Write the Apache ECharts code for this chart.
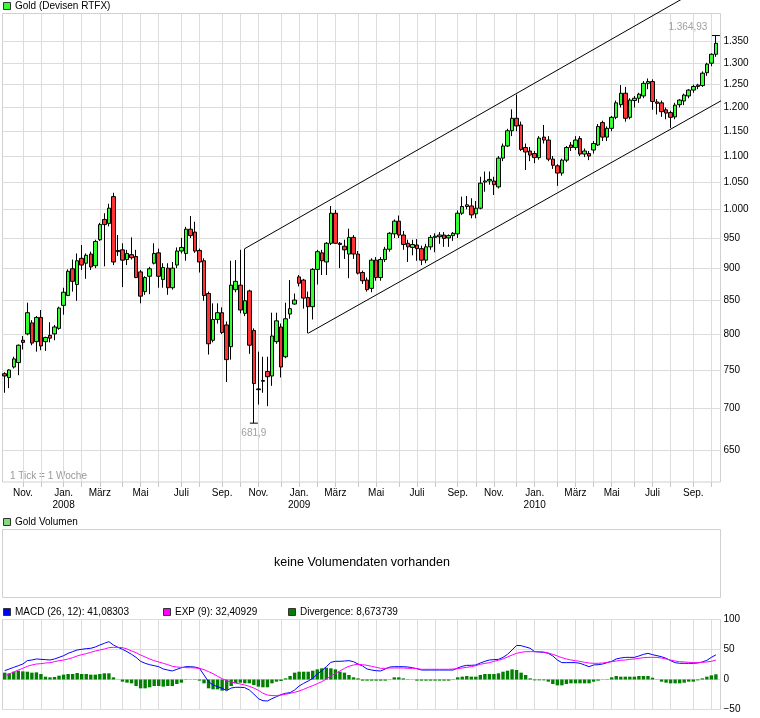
<!DOCTYPE html>
<html><head><meta charset="utf-8">
<script src="https://cdn.jsdelivr.net/npm/echarts@6.0.0/dist/echarts.min.js"></script>
<style>html,body{margin:0;padding:0;background:#fff}#c{width:760px;height:718px}</style>
</head><body><div id="c"></div>
<script>
// ---- weekly OHLC (USD), one candle per week, first week ending 2007-10-05 ----
const opens = [745,740,754,760,791,800,816,789,824,789,798,800,808,842,857,899,874,916,908,923,904,947,982,975,1023,929,930,914,922,919,894,863,887,908,925,882,900,869,905,928,924,965,960,929,912,860,791,821,831,813,782,866,873,830,864,805,725,735,748,742,789,810,768,829,844,886,881,854,840,898,925,910,941,993,941,936,923,951,923,893,881,868,913,885,914,931,957,979,955,941,934,938,932,913,935,951,952,955,950,954,957,993,1005,1006,992,1002,1050,1052,1052,1041,1096,1120,1151,1177,1163,1117,1110,1105,1097,1138,1132,1094,1081,1067,1092,1122,1117,1135,1104,1105,1112,1122,1168,1138,1156,1179,1206,1231,1179,1215,1220,1225,1253,1257,1212,1210,1195,1189,1180,1206,1214,1225,1238,1246,1248,1277,1299,1320];
const highs = [747,751,768,785,797,846,820,826,835,796,817,813,840,869,898,914,924,938,924,927,947,976,993,1010,1030,955,941,930,951,930,897,887,902,941,932,908,908,910,934,950,969,988,978,932,916,863,845,845,839,818,912,913,930,932,866,808,775,768,768,831,831,815,846,881,860,889,883,863,900,930,930,943,1006,999,943,947,966,955,928,896,885,916,918,918,935,960,982,989,962,947,947,948,937,940,955,958,960,960,956,960,998,1023,1024,1020,1015,1060,1070,1070,1060,1100,1125,1155,1196,1228,1170,1125,1118,1110,1140,1163,1140,1100,1084,1095,1120,1128,1140,1140,1115,1110,1130,1165,1172,1160,1182,1215,1249,1245,1220,1225,1232,1258,1264,1262,1218,1215,1200,1193,1210,1218,1230,1240,1250,1252,1280,1300,1322,1364.93];
const lows = [720,726,752,743,778,798,784,775,777,776,788,791,806,828,856,863,849,897,883,897,900,945,903,970,905,920,870,905,914,884,845,858,859,906,869,869,858,866,900,924,912,950,925,893,849,771,788,815,800,734,764,862,830,826,772,681.9,705,720,703,729,786,740,766,822,843,871,837,801,821,874,889,889,938,940,900,915,884,915,890,875,863,862,880,880,910,927,950,950,930,910,921,912,905,908,930,926,940,935,935,945,950,990,1000,984,984,1000,1032,1045,1026,1038,1090,1118,1140,1150,1110,1073,1090,1086,1093,1125,1090,1075,1043,1062,1088,1110,1112,1100,1098,1092,1105,1120,1130,1130,1150,1175,1200,1170,1175,1200,1210,1220,1240,1195,1185,1180,1175,1157,1175,1200,1205,1220,1232,1240,1245,1270,1292,1314];
const closes = [742,750,765,784,788,831,787,824,783,795,794,810,838,862,895,879,912,905,921,902,944,973,973,1002,910,927,913,924,917,885,856,885,899,924,887,901,869,900,928,934,965,954,928,910,857,786,821,831,802,764,873,879,835,849,784,732,724,736,741,797,819,754,822,837,850,876,853,840,898,927,912,941,993,941,939,930,951,923,892,880,866,913,885,914,931,958,979,955,939,935,939,932,913,935,951,953,955,949,954,958,993,1005,1008,990,1002,1048,1052,1055,1045,1096,1120,1151,1177,1161,1113,1108,1102,1097,1136,1132,1094,1082,1067,1092,1117,1117,1132,1104,1110,1100,1125,1160,1138,1156,1179,1210,1231,1177,1216,1220,1229,1253,1257,1213,1209,1191,1188,1179,1205,1216,1227,1238,1246,1249,1276,1297,1320,1346];

// ---- MACD panel ----
const macd = [14.7,17.5,20.3,23,25.8,31.4,32.5,34.2,33.6,33.1,32.5,34.2,36.9,39.7,43.6,46.4,49.2,50.3,51.4,52,54.2,57.5,60.3,63.1,57.5,53.6,50.3,46.4,41.9,36.9,30.3,27,24.7,23,21.4,17.5,15.8,14.2,16.9,19.7,21.4,21.4,20.8,18.6,7.5,-3.6,-9.2,-12,-14.7,-18.6,-14.2,-13,-13,-13.6,-17.5,-24.2,-32,-35.3,-35.8,-32,-28.6,-25.3,-23,-21.9,-17.5,-10.8,-6.4,-2.5,1.9,9.2,14.7,21.4,28.6,30.3,30.3,30.8,31.4,29.7,25.8,22.5,17.5,15.8,14.7,14.2,17.5,20.8,21.4,21.4,21.4,20.8,19.7,18,15.8,15.8,15.8,15.8,15.8,15.8,15.8,15.8,19.2,22,23.6,23.6,24.2,27.5,30.3,32.5,33.1,33.6,36.9,41.9,49.2,56.9,56.4,54.2,52,46.4,45.8,45.3,43.6,39.2,32.5,28.1,28.1,28.1,28.1,27,24.2,21.4,24.2,24.7,25.8,28.1,30.3,34.2,35.8,36.9,36.9,36.9,39.2,41.9,43.6,41.4,39.7,38,35.3,31.4,28.1,27,27,27,27,27.5,29.2,32,36.9,41.08303];
const signal = [5.8,9.2,12.5,15.8,18.6,22,24.2,25.8,26.4,27.5,28,29.7,31.4,32.5,34.2,36.4,39.2,41.4,43.1,45.3,47.5,49.2,50.8,53,53.6,53.6,53.1,50.8,47.5,44.7,40.8,37.5,34.2,31.4,29.2,27,24.7,22,20.8,20.3,19.7,19.7,19.2,18.6,16.4,13.1,9.7,5.3,1.4,-2,-4.2,-5.8,-7.5,-9.2,-11.4,-14.2,-18,-23,-25.8,-26.9,-26.9,-25.8,-24.7,-23,-21.4,-19.2,-16.4,-13.1,-10.3,-7,-3.6,0.8,5.8,10.3,14.2,18.6,22,24.2,25.3,24.7,23.6,22,20.3,18.6,18.6,19.2,19.2,19.2,19.2,18.6,18.6,18.1,17,17,17,17,17,17,17,17.5,18.1,19.2,20.3,21.4,23,25.3,26.9,28,30.3,32,34.2,37.5,40.8,43.6,45.3,46.4,46.4,46.4,46.4,45.8,44.2,41.9,39.2,36.4,34.2,32.5,31.4,30.3,28.6,27.5,27,27,27.5,28.6,29.7,30.8,32,32.5,33.6,34.2,35.3,36.4,36.9,36.9,36.9,35.8,34.2,32.5,30.8,29.7,29.2,28.6,28.1,28.1,28.6,29.2,30.3,32.40929];
const divergence = [11.4,10.3,13,14.7,13.6,13,11.4,11.9,9.2,4.7,3.6,4.2,6.4,8.1,9.2,9.2,10.8,9.2,9.2,8.1,8.1,9.2,10.3,10.3,3.6,0.2,-3.6,-5.3,-6.4,-10.8,-14.7,-14.7,-13,-10.8,-10.8,-11.9,-10.8,-10.8,-7.5,-5.3,-0.5,0.3,0.5,-1.9,-6.4,-14.7,-16.4,-16.4,-18.6,-17.5,-10.8,-6.4,-5.3,-6.4,-6.4,-9.2,-11.9,-13,-13,-6.4,-3.6,-2.5,1.9,5.8,11.4,13,13,13,14.7,16.9,18.6,19.7,18.6,16.9,13,11.4,7.5,3.6,1.9,-1.9,-1.9,-1.9,-1.9,-1.9,-1.9,0.4,3.6,3.6,1.9,0.5,0.3,-1.9,-1.9,-1.9,-1.9,-1.9,-1.9,-1.9,-1.9,-0.5,3.6,4.7,5.8,4.7,4.7,7.5,9.2,9.2,9.2,10.3,13,14.7,16.9,15.8,11.4,7.5,1.9,-1.4,-1.4,-1.4,-3.6,-7.5,-9.7,-9.7,-7.5,-6.4,-6.4,-6.4,-6.4,-6.4,-3.6,-1.9,-0.3,0.5,3.6,5.8,4.7,4.7,4.7,4.7,5.8,5.8,5.8,3,0.3,-3.6,-5.3,-6.4,-6.4,-6.4,-5.3,-3.6,-3.6,-1.4,1.9,4.7,6.9,8.673739];

// ---- trend channel (date, price) ----
const channelUpper = [['2008-10-10', 932], ['2010-09-14', 1485]];
const channelLower = [['2009-01-16', 801], ['2010-12-15', 1263]];

// ---- axis ticks & labels ----
const priceTicks = [650,700,750,800,850,900,950,1000,1050,1100,1150,1200,1250,1300,1350];
const macdTicks = [-50, 0, 50, 100];
const xLabelMonths = ['2007-11','2008-01','2008-03','2008-05','2008-07','2008-09','2008-11','2009-01','2009-03','2009-05','2009-07','2009-09','2009-11','2010-01','2010-03','2010-05','2010-07','2010-09'];
const xLabelTexts = ['Nov.','Jan.\n2008','März','Mai','Juli','Sep.','Nov.','Jan.\n2009','März','Mai','Juli','Sep.','Nov.','Jan.\n2010','März','Mai','Juli','Sep.'];
const gridFirstMonth = '2007-11', gridLastMonth = '2010-10';

const FONT = 'Liberation Sans, Arial, sans-serif';
const DAY = 86400000;
const firstWeek = Date.UTC(2007, 9, 5);
const weeks = opens.map((_, i) => firstWeek + i * 7 * DAY);

// tick sits on the weekly candle of the week (Mon-Sun) that contains the 1st of the month
function monthTick(ym) {
  const [y, m] = ym.split('-').map(Number);
  const t = Date.UTC(y, m - 1, 1);
  const dow = new Date(t).getUTCDay();
  const iso = dow === 0 ? 7 : dow;
  return t + (5 - iso) * DAY;
}
const gridTicks = [];
{
  let [y, m] = gridFirstMonth.split('-').map(Number);
  const [ly, lm] = gridLastMonth.split('-').map(Number);
  while (y < ly || (y === ly && m <= lm)) {
    gridTicks.push(monthTick(y + '-' + m));
    m++; if (m > 12) { m = 1; y++; }
  }
}
const labelTicks = xLabelMonths.map(monthTick);
const labelMap = {};
labelTicks.forEach((t, i) => labelMap[t] = xLabelTexts[i]);

const xMin = firstWeek - 3.4 * DAY;
const xMax = weeks[weeks.length - 1] + 7.1 * DAY;
const yMin = Math.log(613.7), yMax = Math.log(1419.9);

function fmtThousands(n) {
  n = Math.round(n);
  return n >= 1000 ? Math.floor(n / 1000) + '.' + String(n % 1000).padStart(3, '0') : String(n);
}
function fmtDe(v) {
  let s = v.toFixed(2).replace(/0+$/, '').replace(/\.$/, '');
  const parts = s.split('.');
  return fmtThousands(+parts[0]) + (parts[1] ? ',' + parts[1] : '');
}

const candleData = weeks.map((t, i) => [t, Math.log(opens[i]), Math.log(closes[i]), Math.log(lows[i]), Math.log(highs[i])]);
let iMax = 0, iMin = 0;
highs.forEach((h, i) => { if (h > highs[iMax]) iMax = i; });
lows.forEach((l, i) => { if (l < lows[iMin]) iMin = i; });

const gridLine = { show: true, lineStyle: { color: '#dcdcdc', width: 1 } };
const chart = echarts.init(document.getElementById('c'), null, { renderer: 'canvas' });
chart.setOption({
  animation: false,
  textStyle: { fontFamily: FONT },
  grid: [
    { left: 2.5, right: 39.5, top: 13.5, bottom: 236, show: true, borderColor: '#d0d0d0', borderWidth: 1 },
    { left: 2.5, right: 39.5, top: 619.5, bottom: 8.5, show: true, borderColor: '#d0d0d0', borderWidth: 1 }
  ],
  xAxis: [
    { type: 'value', gridIndex: 0, min: xMin, max: xMax,
      axisLine: { show: false },
      axisTick: { show: true, customValues: gridTicks, length: 5, lineStyle: { color: '#c8c8c8' } },
      axisLabel: { customValues: labelTicks, formatter: v => labelMap[v] || '', fontSize: 10, lineHeight: 12,
                   margin: 5, color: '#000', fontFamily: FONT },
      splitLine: gridLine },
    { type: 'value', gridIndex: 1, min: xMin, max: xMax,
      axisLine: { show: false },
      axisTick: { show: false, customValues: gridTicks },
      axisLabel: { show: false },
      splitLine: gridLine }
  ],
  yAxis: [
    { type: 'value', gridIndex: 0, position: 'right', min: yMin, max: yMax,
      axisLine: { show: false },
      axisTick: { show: false, customValues: priceTicks.map(Math.log) },
      axisLabel: { customValues: priceTicks.map(Math.log), formatter: v => fmtThousands(Math.exp(v)),
                   fontSize: 10, color: '#000', margin: 3, fontFamily: FONT },
      splitLine: gridLine },
    { type: 'value', gridIndex: 1, position: 'right', min: -50, max: 100, interval: 50,
      axisLine: { show: false }, axisTick: { show: false },
      axisLabel: { formatter: v => (v < 0 ? '\u2212' + Math.abs(v) : String(v)), fontSize: 10, color: '#000', margin: 3, fontFamily: FONT },
      splitLine: gridLine }
  ],
  series: [
    { type: 'candlestick', xAxisIndex: 0, yAxisIndex: 0, data: candleData, encode: { x: 0, y: [1, 2, 3, 4] },
      barWidth: 4,
      itemStyle: { color: '#33ff33', color0: '#ff3333', borderColor: '#000', borderColor0: '#000', borderColorDoji: '#000', borderWidth: 1 },
      markPoint: {
        symbol: 'rect', symbolSize: [8, 1], itemStyle: { color: '#000' },
        label: { show: true, position: 'inside', color: '#a0a0a0', fontSize: 10, fontFamily: FONT, formatter: p => fmtDe(p.value) },
        data: [
          { coord: [weeks[iMax], Math.log(highs[iMax])], value: highs[iMax], label: { offset: [-28, -8] } },
          { coord: [weeks[iMin], Math.log(lows[iMin])], value: lows[iMin], label: { offset: [0, 10] } }
        ]
      }
    },
    { type: 'line', xAxisIndex: 0, yAxisIndex: 0, clip: false, silent: true, symbol: 'none',
      data: channelUpper.map(p => [Date.parse(p[0]), Math.log(p[1])]), lineStyle: { color: '#000', width: 1 } },
    { type: 'line', xAxisIndex: 0, yAxisIndex: 0, clip: false, silent: true, symbol: 'none',
      data: channelLower.map(p => [Date.parse(p[0]), Math.log(p[1])]), lineStyle: { color: '#000', width: 1 } },
    { type: 'bar', xAxisIndex: 1, yAxisIndex: 1, barWidth: 3.4, data: weeks.map((t, i) => [t, divergence[i]]),
      itemStyle: { color: '#007f00' } },
    { type: 'line', xAxisIndex: 1, yAxisIndex: 1, symbol: 'none', data: weeks.map((t, i) => [t, macd[i]]),
      lineStyle: { color: '#0000ff', width: 1 } },
    { type: 'line', xAxisIndex: 1, yAxisIndex: 1, symbol: 'none', data: weeks.map((t, i) => [t, signal[i]]),
      lineStyle: { color: '#ff00ff', width: 1 } }
  ],
  graphic: [
    { type: 'rect', shape: { x: 3.5, y: 2.5, width: 7, height: 7 }, style: { fill: '#33ff33', stroke: '#333', lineWidth: 1 } },
    { type: 'text', x: 15, y: 6.5, style: { text: 'Gold (Devisen RTFX)', fill: '#000', font: '10px ' + FONT, verticalAlign: 'middle' } },
    { type: 'text', x: 10, y: 476, style: { text: '1 Tick = 1 Woche', fill: '#999', font: '10px ' + FONT, verticalAlign: 'middle' } },
    { type: 'rect', shape: { x: 3.5, y: 518.5, width: 7, height: 7 }, style: { fill: '#7fd97f', stroke: '#333', lineWidth: 1 } },
    { type: 'text', x: 15, y: 522.5, style: { text: 'Gold Volumen', fill: '#000', font: '10px ' + FONT, verticalAlign: 'middle' } },
    { type: 'rect', shape: { x: 2.5, y: 529.5, width: 718, height: 68 }, style: { fill: 'none', stroke: '#d0d0d0', lineWidth: 1 } },
    { type: 'text', x: 362, y: 563, style: { text: 'keine Volumendaten vorhanden', fill: '#000', font: '12.5px ' + FONT, align: 'center', verticalAlign: 'middle' } },
    { type: 'rect', shape: { x: 3.5, y: 608.5, width: 7, height: 7 }, style: { fill: '#0000ff', stroke: '#333', lineWidth: 1 } },
    { type: 'text', x: 15, y: 612, style: { text: 'MACD (26, 12): 41,08303', fill: '#000', font: '10px ' + FONT, verticalAlign: 'middle' } },
    { type: 'rect', shape: { x: 163.5, y: 608.5, width: 7, height: 7 }, style: { fill: '#ff00ff', stroke: '#333', lineWidth: 1 } },
    { type: 'text', x: 175, y: 612, style: { text: 'EXP (9): 32,40929', fill: '#000', font: '10px ' + FONT, verticalAlign: 'middle' } },
    { type: 'rect', shape: { x: 288.5, y: 608.5, width: 7, height: 7 }, style: { fill: '#007f00', stroke: '#333', lineWidth: 1 } },
    { type: 'text', x: 300, y: 612, style: { text: 'Divergence: 8,673739', fill: '#000', font: '10px ' + FONT, verticalAlign: 'middle' } }
  ]
});
</script></body></html>
